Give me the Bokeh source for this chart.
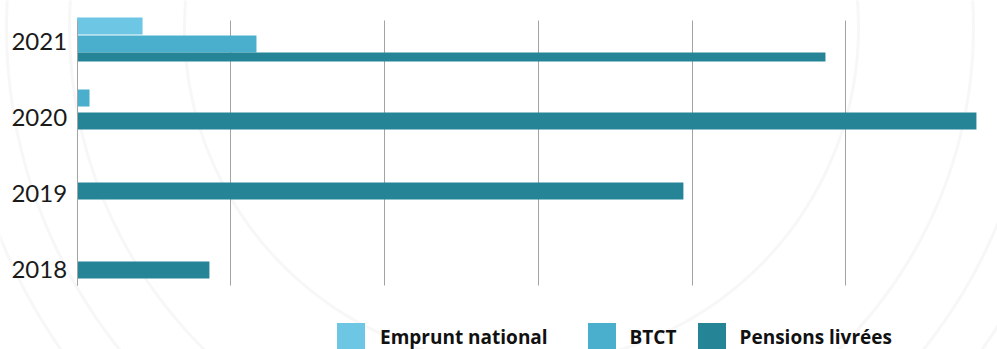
import numpy as np
from bokeh.plotting import figure
from bokeh.models import (ColumnDataSource, Range1d, FixedTicker, Legend,
                          LegendItem, PolyAnnotation)
from bokeh.embed import file_html
from bokeh.resources import INLINE

# ---- data -------------------------------------------------------------
years = ["2018", "2019", "2020", "2021"]
emprunt_national = [0, 0, 0, 426]
btct = [0, 0, 81, 1167]
pensions_livrees = [861, 3944, 5850, 4868]

series_names = ["Emprunt national", "BTCT", "Pensions livrées"]
series_values = [emprunt_national, btct, pensions_livrees]
grid_ticks = [0, 1000, 2000, 3000, 4000, 5000]

# ---- styling / placement ---------------------------------------------
series_colors = ["#6DC6E4", "#4AAFCC", "#258597"]
# vertical shift of each bar inside its year band (band units)
bar_offsets = [
    [0.0, 0.0, 0.0, 0.21],
    [0.0, 0.0, 0.26, -0.028],
    [-0.013, 0.03, -0.045, -0.199],
]
bar_heights = [
    [0.225, 0.225, 0.225, 0.225],
    [0.225, 0.225, 0.225, 0.225],
    [0.225, 0.225, 0.225, 0.119],
]

W, H = 997, 349
AXIS_BOTTOM, AXIS_TOP = -0.218, 3.283

p = figure(width=W, height=H, output_backend="svg", toolbar_location=None,
           x_range=Range1d(-498, 5987), y_range=Range1d(-1.063, 3.547),
           min_border=0)
p.background_fill_color = "white"
p.border_fill_color = "white"
p.outline_line_color = None
p.xgrid.visible = False
p.ygrid.visible = False

# decorative concentric rings behind the chart (canvas pixels)
ring_cx, ring_cy = 521, 27
t = np.linspace(0, 2 * np.pi, 361)
for r in [337, 452, 515, 562]:
    xs = ring_cx + r * np.cos(t)
    ys = H - (ring_cy + r * np.sin(t))
    p.add_layout(PolyAnnotation(xs=list(xs), ys=list(ys), xs_units="screen",
                                ys_units="screen", fill_color=None, fill_alpha=0,
                                line_color="#e6e6e6", line_width=3, level="image"))

# bars
renderers = []
for name, vals, color, offs, hts in zip(series_names, series_values,
                                        series_colors, bar_offsets, bar_heights):
    src = ColumnDataSource(dict(
        y=[i + o for i, o in enumerate(offs)],
        h=hts,
        value=vals,
        year=years,
    ))
    r = p.hbar(y="y", height="h", left=0, right="value", source=src,
               fill_color=color, line_color=None)
    renderers.append(r)

# value axis: no labels, its inward ticks serve as the vertical guide lines
xa = p.xaxis[0]
xa.fixed_location = AXIS_BOTTOM
xa.ticker = FixedTicker(ticks=grid_ticks)
xa.axis_line_color = None
xa.major_tick_in = 265
xa.major_tick_out = 0
xa.major_tick_line_color = "#a3a3a3"
xa.major_tick_line_width = 1
xa.minor_tick_line_color = None
xa.major_label_text_color = None
xa.level = "underlay"

# year axis
ya = p.yaxis[0]
ya.fixed_location = 0
ya.bounds = (AXIS_BOTTOM, AXIS_TOP)
ya.ticker = FixedTicker(ticks=list(range(len(years))))
ya.major_label_overrides = {i: y for i, y in enumerate(years)}
ya.axis_line_color = "#a3a3a3"
ya.axis_line_width = 1
ya.major_tick_line_color = None
ya.minor_tick_line_color = None
ya.major_tick_out = 0
ya.major_tick_in = 0
ya.major_label_standoff = 10
ya.major_label_text_font = "Lato"
ya.major_label_text_font_size = "24px"
ya.major_label_text_color = "#1a1a1a"

# legend: one entry block per series, laid out under the plot
legend_x = [333, 583.5, 693.5]
standoffs = [12, 11, 11]
for name, r, lx, so in zip(series_names, renderers, legend_x, standoffs):
    lg = Legend(items=[LegendItem(label=name, renderers=[r])],
                location=(lx, -5), orientation="horizontal",
                padding=0, margin=0, spacing=0,
                glyph_width=35, glyph_height=35, label_standoff=so,
                border_line_color=None, background_fill_alpha=0,
                label_text_font="Open Sans", label_text_font_style="bold",
                label_text_font_size="19px", label_text_color="#111111")
    p.add_layout(lg)

open("out.html", "w").write(file_html(p, INLINE))
